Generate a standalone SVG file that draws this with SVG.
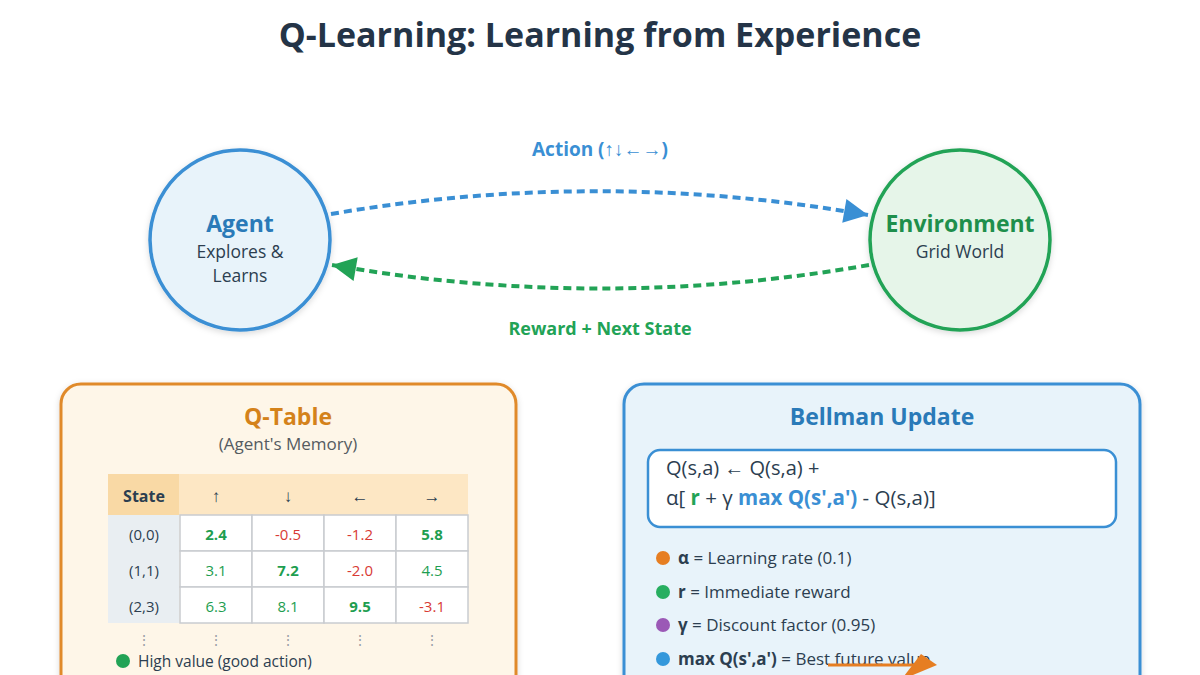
<svg xmlns="http://www.w3.org/2000/svg" width="1200" height="675" viewBox="0 0 1200 675">
<defs>
<style>
text{font-family:"Open Sans","Noto Sans","Liberation Sans",sans-serif;}
.title{font-size:34px;font-weight:700;fill:#243447;text-anchor:middle;}
.dark{fill:#2c3e50;}
.c{text-anchor:middle;}
.b{font-weight:700;}
.cell{fill:#ffffff;stroke:#c9ccd0;stroke-width:1.5;}
.sc{fill:#e9eef2;}
.g{fill:#1e9e50;}
.r{fill:#d83a34;}
.tv{font-size:15px;text-anchor:middle;}
.dots{font-size:14px;fill:#9aa0a6;text-anchor:middle;}
.leg{font-size:17px;fill:#2c3e50;}
</style>
<filter id="sh" x="-20%" y="-20%" width="140%" height="140%">
<feDropShadow dx="0" dy="2" stdDeviation="3" flood-color="#000" flood-opacity="0.15"/>
</filter>
<marker id="ab" viewBox="0 0 10 10" refX="10" refY="5" markerWidth="8" markerHeight="6" markerUnits="strokeWidth" orient="auto">
<path d="M0,0 L10,5 L0,10 Z" fill="#3a8fd4"/>
</marker>
<marker id="ag" viewBox="0 0 10 10" refX="10" refY="5" markerWidth="8" markerHeight="6" markerUnits="strokeWidth" orient="auto">
<path d="M0,0 L10,5 L0,10 Z" fill="#22a356"/>
</marker>
</defs>
<rect width="1200" height="675" fill="#ffffff"/>
<text class="title" x="600" y="47">Q-Learning: Learning from Experience</text>

<g id="connectors">
<path d="M331,214 Q600,168 868,215" fill="none" stroke="#3a8fd4" stroke-width="4" stroke-dasharray="8,5" marker-end="url(#ab)"/>
<text x="600" y="156" class="c b" font-size="19" fill="#3a8fd4">Action (↑↓←→)</text>
<path d="M869,265 Q600,312 332,265" fill="none" stroke="#22a356" stroke-width="4" stroke-dasharray="8,5" marker-end="url(#ag)"/>
<text x="600" y="335" class="c b" font-size="18" fill="#22a356">Reward + Next State</text>
</g>

<g id="agent">
<circle cx="240" cy="240" r="90" fill="#e8f3fa" stroke="#3a8fd4" stroke-width="3.5" filter="url(#sh)"/>
<text x="240" y="232" class="c b" font-size="23" fill="#2a7ab8">Agent</text>
<text x="240" y="258" class="c dark" font-size="17.5">Explores &amp;</text>
<text x="240" y="282" class="c dark" font-size="17.5">Learns</text>
</g>

<g id="environment">
<circle cx="960" cy="240" r="90" fill="#e6f5e9" stroke="#22a356" stroke-width="3.5" filter="url(#sh)"/>
<text x="960" y="232" class="c b" font-size="23" fill="#1e8f4c">Environment</text>
<text x="960" y="258" class="c dark" font-size="17.5">Grid World</text>
</g>

<g id="qtable">
<rect x="61" y="384" width="455" height="320" rx="20" fill="#fef6e8" stroke="#e08a2a" stroke-width="3" filter="url(#sh)"/>
<text x="288" y="425" class="c b" font-size="23" fill="#d4821a">Q-Table</text>
<text x="288" y="450" class="c" font-size="17" fill="#555b61">(Agent's Memory)</text>
<rect x="108" y="474" width="71" height="41" fill="#f9d9a5"/>
<rect x="179" y="474" width="289" height="41" fill="#fde7c4"/>
<rect x="108" y="515" width="71" height="108" class="sc"/>
<text x="144" y="502" class="c b dark" font-size="16">State</text>
<text x="216" y="502" class="c dark" font-size="17">↑</text>
<text x="288" y="502" class="c dark" font-size="17">↓</text>
<text x="360" y="502" class="c dark" font-size="17">←</text>
<text x="432" y="502" class="c dark" font-size="17">→</text>
<rect x="180" y="515" width="72" height="36" class="cell"/>
<rect x="252" y="515" width="72" height="36" class="cell"/>
<rect x="324" y="515" width="72" height="36" class="cell"/>
<rect x="396" y="515" width="72" height="36" class="cell"/>
<rect x="180" y="551" width="72" height="36" class="cell"/>
<rect x="252" y="551" width="72" height="36" class="cell"/>
<rect x="324" y="551" width="72" height="36" class="cell"/>
<rect x="396" y="551" width="72" height="36" class="cell"/>
<rect x="180" y="587" width="72" height="36" class="cell"/>
<rect x="252" y="587" width="72" height="36" class="cell"/>
<rect x="324" y="587" width="72" height="36" class="cell"/>
<rect x="396" y="587" width="72" height="36" class="cell"/>
<text x="144" y="540" class="tv dark">(0,0)</text>
<text x="216" y="540" class="tv g b">2.4</text>
<text x="288" y="540" class="tv r">-0.5</text>
<text x="360" y="540" class="tv r">-1.2</text>
<text x="432" y="540" class="tv g b">5.8</text>
<text x="144" y="576" class="tv dark">(1,1)</text>
<text x="216" y="576" class="tv g">3.1</text>
<text x="288" y="576" class="tv g b">7.2</text>
<text x="360" y="576" class="tv r">-2.0</text>
<text x="432" y="576" class="tv g">4.5</text>
<text x="144" y="612" class="tv dark">(2,3)</text>
<text x="216" y="612" class="tv g">6.3</text>
<text x="288" y="612" class="tv g">8.1</text>
<text x="360" y="612" class="tv g b">9.5</text>
<text x="432" y="612" class="tv r">-3.1</text>
<text x="144" y="645" class="dots">⋮</text>
<text x="216" y="645" class="dots">⋮</text>
<text x="288" y="645" class="dots">⋮</text>
<text x="360" y="645" class="dots">⋮</text>
<text x="432" y="645" class="dots">⋮</text>
<circle cx="123" cy="661" r="7" fill="#22a356"/>
<text x="138" y="667" font-size="15.5" class="dark">High value (good action)</text>
</g>

<g id="bellman">
<rect x="624" y="384" width="516" height="320" rx="20" fill="#e8f3fa" stroke="#3a8fd4" stroke-width="3" filter="url(#sh)"/>
<text x="882" y="425" class="c b" font-size="23" fill="#2a7ab8">Bellman Update</text>
<rect x="648" y="450" width="468" height="77" rx="12" fill="#ffffff" stroke="#3a8fd4" stroke-width="2.5"/>
<text x="666" y="475" font-size="20" class="dark">Q(s,a) ← Q(s,a) +</text>
<text x="666" y="505" font-size="20.5" class="dark">α[ <tspan class="b" fill="#22a356">r</tspan> + γ <tspan class="b" fill="#3a8fd4">max Q(s',a')</tspan> - Q(s,a)]</text>
<circle cx="663" cy="558" r="7" fill="#e67e22"/>
<text x="678" y="564" class="leg"><tspan class="b">α</tspan> = Learning rate (0.1)</text>
<circle cx="663" cy="592" r="7" fill="#27ae60"/>
<text x="678" y="598" class="leg"><tspan class="b">r</tspan> = Immediate reward</text>
<circle cx="663" cy="625" r="7" fill="#9b59b6"/>
<text x="678" y="631" class="leg"><tspan class="b">γ</tspan> = Discount factor (0.95)</text>
<circle cx="663" cy="659" r="7" fill="#3498db"/>
<text x="678" y="665" class="leg"><tspan class="b">max Q(s',a')</tspan> = Best future value</text>
<line x1="828" y1="665" x2="920" y2="665" stroke="#e67e22" stroke-width="3"/>
<polygon points="901,680 921,654 937,665" fill="#e67e22"/>
</g>
</svg>
